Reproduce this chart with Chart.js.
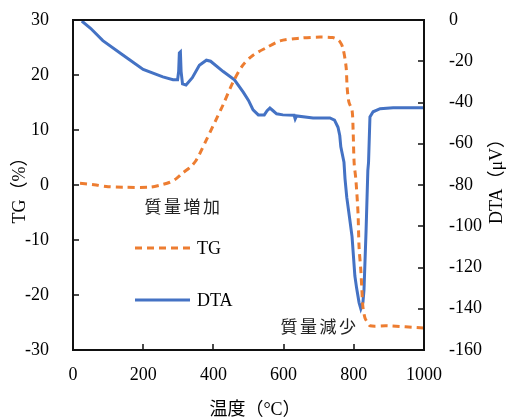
<!DOCTYPE html>
<html>
<head>
<meta charset="utf-8">
<script src="https://cdn.jsdelivr.net/npm/chart.js@4/dist/chart.umd.min.js"></script>
<style>
  html, body { margin: 0; padding: 0; background: #fff; }
  #wrap { width: 508px; height: 419px; position: relative; }
</style>
</head>
<body>
<div id="wrap"><canvas id="taChart"></canvas></div>
<script>
// TG (mass change, %) vs temperature
const tgTemp = [20, 40, 66, 100, 142, 220, 250, 276, 295, 313, 335, 351, 365, 380, 395, 407, 427, 456, 484, 513, 552, 590, 647, 704, 740, 752, 761, 769, 778, 781, 786, 795, 798, 801, 806, 812, 815, 820, 823, 826, 832, 838, 846, 894, 1000];
const tgValues = [0.3, 0.2, 0, -0.3, -0.4, -0.4, 0, 0.5, 1.2, 2.2, 3.3, 4.5, 6.2, 8.2, 10.2, 11.8, 14.5, 18.7, 21.8, 23.6, 25, 26.2, 26.7, 26.9, 26.8, 26.5, 26, 24.9, 21.5, 17.8, 15.1, 13.6, 10, 4, 0.9, -5.1, -11.3, -15.5, -19, -22.2, -24.2, -24.9, -25.6, -25.6, -26];

// DTA (µV) vs temperature
const dtaTemp = [25, 50, 85, 142, 200, 256, 285, 298, 301, 303, 306, 308, 312, 322, 340, 360, 380, 392, 428, 460, 485, 500, 513, 528, 545, 553, 561, 570, 580, 598, 630, 633, 637, 684, 732, 745, 755, 760, 763, 772, 775, 780, 788, 795, 803, 808, 815, 820, 826, 829, 835, 840, 842, 846, 855, 875, 912, 1000];
const dtaValues = [-0.5, -4, -10, -17, -24, -27.6, -29, -29, -25, -16, -15.5, -25, -31, -31.5, -28, -22, -19.5, -20, -25, -29, -35, -39, -43.6, -46, -46, -44, -42.7, -44, -45.5, -46, -46.2, -48, -46.5, -47.5, -47.5, -48.5, -52, -56, -61.5, -69, -77, -86, -96, -105, -124, -130, -137, -140, -137, -131, -102, -73, -69, -47, -44.5, -43, -42.5, -42.5];

const xTicks = [0, 200, 400, 600, 800, 1000];

const ORANGE = '#ED7D31';
const BLUE = '#4472C4';
const SERIF = "'Liberation Serif', 'Noto Sans CJK JP', serif";
const CJK = "'Noto Sans CJK JP', sans-serif";

const toPoints = (xs, ys) => xs.map((x, i) => ({ x: x, y: ys[i] }));

// keep the plot box fixed: no extra room for overhanging tick labels
const noOverhang = s => {
  s.paddingTop = 0; s.paddingBottom = 0;
  s.paddingLeft = 0; s.paddingRight = 0;
};

// frame, inward tick marks, titles, notes and the legend
const decorations = {
  id: 'decorations',
  afterDraw(chart) {
    const ctx = chart.ctx;
    const a = chart.chartArea;
    const sx = chart.scales.x, sy = chart.scales.y, sy2 = chart.scales.y2;
    ctx.save();
    ctx.strokeStyle = '#111';
    ctx.lineWidth = 2;
    ctx.strokeRect(a.left, a.top, a.right - a.left, a.bottom - a.top);

    ctx.lineWidth = 1.5;
    ctx.beginPath();
    sy.ticks.forEach(t => {
      const y = Math.round(sy.getPixelForValue(t.value));
      ctx.moveTo(a.left, y); ctx.lineTo(a.left + 6, y);
    });
    sy2.ticks.forEach(t => {
      const y = Math.round(sy2.getPixelForValue(t.value));
      ctx.moveTo(a.right, y); ctx.lineTo(a.right - 6, y);
    });
    sx.ticks.forEach(t => {
      const x = Math.round(sx.getPixelForValue(t.value));
      ctx.moveTo(x, a.bottom); ctx.lineTo(x, a.bottom - 6);
    });
    ctx.stroke();

    ctx.fillStyle = '#000';
    ctx.textAlign = 'center';
    ctx.textBaseline = 'middle';
    ctx.font = '18px ' + SERIF;

    ctx.save();
    ctx.translate(20, 186);
    ctx.rotate(-Math.PI / 2);
    ctx.fillText('TG（%）', 0, 0);
    ctx.restore();

    ctx.save();
    ctx.translate(497, 177);
    ctx.rotate(-Math.PI / 2);
    ctx.fillText('DTA（μV）', 0, 0);
    ctx.restore();

    ctx.fillText('温度（°C）', 255, 410);

    // notes
    ctx.fillStyle = '#222';
    ctx.font = '17px ' + CJK;
    const note = (txt, x0, y) => {
      [...txt].forEach((ch, i) => ctx.fillText(ch, x0 + i * 19.5, y));
    };
    note('質量増加', 153, 207);
    note('質量減少', 289, 327);

    // legend
    const ds = chart.data.datasets;
    const rows = [{ d: ds[0], y: 248 }, { d: ds[1], y: 300 }];
    rows.forEach(r => {
      ctx.strokeStyle = r.d.borderColor;
      ctx.lineWidth = r.d.borderWidth;
      ctx.setLineDash(r.d.borderDash || []);
      ctx.beginPath();
      ctx.moveTo(135, r.y); ctx.lineTo(190, r.y);
      ctx.stroke();
      ctx.setLineDash([]);
      ctx.fillStyle = '#000';
      ctx.textAlign = 'left';
      ctx.font = '18px ' + SERIF;
      ctx.fillText(r.d.label, 197, r.y + 1);
    });
    ctx.restore();
  }
};

new Chart(document.getElementById('taChart'), {
  type: 'line',
  data: {
    datasets: [
      {
        label: 'TG',
        data: toPoints(tgTemp, tgValues),
        yAxisID: 'y',
        borderColor: ORANGE,
        borderWidth: 3,
        borderDash: [7, 5],
        pointRadius: 0,
        tension: 0.3,
        fill: false
      },
      {
        label: 'DTA',
        data: toPoints(dtaTemp, dtaValues),
        yAxisID: 'y2',
        borderColor: BLUE,
        borderWidth: 3,
        pointRadius: 0,
        tension: 0,
        fill: false
      }
    ]
  },
  options: {
    responsive: true,
    maintainAspectRatio: false,
    animation: false,
    layout: { padding: { top: 20, left: 0, right: 0, bottom: 0 } },
    plugins: { legend: { display: false }, tooltip: { enabled: false } },
    scales: {
      x: {
        type: 'linear',
        min: 0, max: 1000,
        afterBuildTicks: s => { s.ticks = xTicks.map(v => ({ value: v })); },
        afterFit: s => { s.height = 69; noOverhang(s); },
        grid: { display: false },
        border: { display: false },
        ticks: {
          color: '#000', padding: 6, maxRotation: 0,
          callback: v => String(v),
          font: { family: SERIF, size: 18 }
        }
      },
      y: {
        position: 'left',
        min: -30, max: 30,
        afterFit: s => { s.width = 73; noOverhang(s); },
        grid: { display: false },
        border: { display: false },
        ticks: { stepSize: 10, color: '#000', padding: 16, font: { family: SERIF, size: 18 } }
      },
      y2: {
        position: 'right',
        min: -160, max: 0,
        afterFit: s => { s.width = 84; noOverhang(s); },
        grid: { display: false },
        border: { display: false },
        ticks: { stepSize: 20, color: '#000', padding: 17, font: { family: SERIF, size: 18 } }
      }
    }
  },
  plugins: [decorations]
});
</script>
</body>
</html>
